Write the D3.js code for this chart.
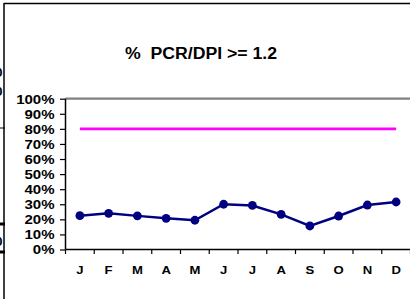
<!DOCTYPE html>
<html>
<head>
<meta charset="utf-8">
<script src="https://cdn.jsdelivr.net/npm/d3@7"></script>
<style>
  html, body { margin: 0; padding: 0; background: #fff; }
  svg { display: block; font-family: Arial, "Liberation Sans", sans-serif; }
</style>
</head>
<body>
<div id="chart"></div>
<script>
// data
const months = ['J', 'F', 'M', 'A', 'M', 'J', 'J', 'A', 'S', 'O', 'N', 'D'];
const pcrValues = [22.4, 24.0, 22.3, 20.7, 19.4, 30.0, 29.2, 23.3, 15.6, 22.2, 29.5, 31.5];
const targetValue = 80;
const yTicks = [0, 10, 20, 30, 40, 50, 60, 70, 80, 90, 100];
const titleText = '%\u00a0 PCR/DPI >= 1.2';

const width = 410, height = 299;
const plot = { left: 65.5, right: 410.5, top: 98.7, bottom: 249.5 };
const stretch = 1.25; // the original text is drawn a bit wide

const svg = d3.select('#chart').append('svg')
  .attr('width', width)
  .attr('height', height);

// scales
const xScale = d3.scaleBand()
  .domain(d3.range(months.length))
  .range([plot.left, plot.right]);

const yScale = d3.scaleLinear()
  .domain([0, 100])
  .range([plot.bottom, plot.top]);

const xMid = i => xScale(i) + xScale.bandwidth() / 2;

// outer frame (chart cut from a larger sheet)
svg.append('line')
  .attr('x1', 4).attr('x2', width).attr('y1', 3.5).attr('y2', 3.5)
  .style('stroke', '#000').style('stroke-width', 1.5);
svg.append('line')
  .attr('x1', 4).attr('x2', 4).attr('y1', 3).attr('y2', height)
  .style('stroke', '#000').style('stroke-width', 1.5);

// pieces of the neighbouring chart at the left edge
[72, 91, 241].forEach(y => {
  svg.append('text')
    .attr('x', 2.5).attr('y', y).attr('dy', '0.35em')
    .attr('text-anchor', 'end')
    .style('font-size', '13px').style('font-weight', 'bold')
    .text('0');
});
[[128, 1], [224, 3], [252, 3]].forEach(([y, w]) => {
  svg.append('line')
    .attr('x1', 0).attr('x2', 5).attr('y1', y).attr('y2', y)
    .style('stroke', '#000').style('stroke-width', w);
});

// title
svg.append('text')
  .attr('x', 201).attr('y', 58.5)
  .attr('text-anchor', 'middle')
  .attr('textLength', 152)
  .attr('lengthAdjust', 'spacingAndGlyphs')
  .style('font-size', '16px').style('font-weight', 'bold')
  .text(titleText);

// plot top border
svg.append('line')
  .attr('x1', plot.left).attr('x2', width)
  .attr('y1', plot.top).attr('y2', plot.top)
  .style('stroke', '#808080').style('stroke-width', 2.3);

// y axis
const yAxis = d3.axisLeft(yScale)
  .tickValues(yTicks)
  .tickSize(5.5)
  .tickFormat(d => d + '%');
const yG = svg.append('g')
  .attr('transform', `translate(${plot.left}, 0)`)
  .call(yAxis);
yG.select('.domain').remove();
yG.selectAll('.tick line').style('stroke', '#000').style('stroke-width', 1.2);
yG.selectAll('.tick text')
  .attr('x', 0).attr('dy', null)
  .attr('transform', `translate(-11, 4.3) scale(${stretch}, 1)`)
  .attr('fill', '#000')
  .style('font-size', '12px').style('font-weight', 'bold')
  .style('font-family', 'Arial, "Liberation Sans", sans-serif');
svg.append('line')
  .attr('x1', plot.left).attr('x2', plot.left)
  .attr('y1', plot.top).attr('y2', plot.bottom)
  .style('stroke', '#000').style('stroke-width', 1.5);

// x axis
const xG = svg.append('g')
  .attr('transform', `translate(0, ${plot.bottom})`);
xG.append('line')
  .attr('x1', plot.left).attr('x2', width)
  .style('stroke', '#000').style('stroke-width', 1.5);
xG.selectAll('.xtick')
  .data(d3.range(months.length + 1))
  .enter()
  .append('line')
  .attr('class', 'xtick')
  .attr('x1', i => plot.left + i * xScale.bandwidth())
  .attr('x2', i => plot.left + i * xScale.bandwidth())
  .attr('y1', 0).attr('y2', 4.5)
  .style('stroke', '#000').style('stroke-width', 1.2);
xG.selectAll('.xlabel')
  .data(months)
  .enter()
  .append('text')
  .attr('class', 'xlabel')
  .attr('text-anchor', 'middle')
  .attr('transform', (d, i) => `translate(${xMid(i)}, 24) scale(${stretch}, 1)`)
  .style('font-size', '10.5px').style('font-weight', 'bold')
  .text(d => d);

// target line
svg.append('line')
  .attr('x1', xMid(0)).attr('x2', xMid(months.length - 1))
  .attr('y1', yScale(targetValue)).attr('y2', yScale(targetValue))
  .style('stroke', '#ff00ff').style('stroke-width', 2.6);

// series
const line = d3.line()
  .x((d, i) => xMid(i))
  .y(d => yScale(d));

svg.append('path')
  .datum(pcrValues)
  .attr('d', line)
  .style('fill', 'none')
  .style('stroke', '#000080')
  .style('stroke-width', 2.5);

svg.selectAll('.point')
  .data(pcrValues)
  .enter()
  .append('circle')
  .attr('class', 'point')
  .attr('cx', (d, i) => xMid(i))
  .attr('cy', d => yScale(d))
  .attr('r', 4.4)
  .style('fill', '#000080');
</script>
</body>
</html>
